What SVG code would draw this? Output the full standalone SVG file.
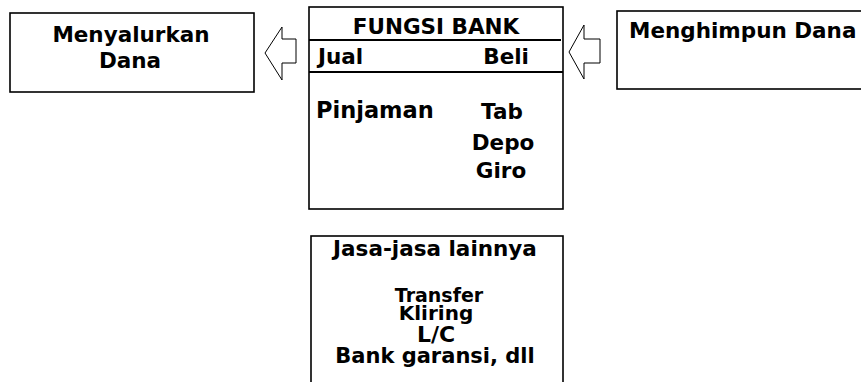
<svg xmlns="http://www.w3.org/2000/svg" width="861" height="382" viewBox="0 0 861 382">
<style>
.box{fill:#fff;stroke:#000;stroke-width:1.6}
.sep{stroke:#000;stroke-width:2.2}
.arr{fill:#fff;stroke:#000;stroke-width:1}
text{font-family:"DejaVu Sans",Verdana,sans-serif;font-weight:bold;font-size:21.5px;fill:#000}
.m{text-anchor:middle}
.e{text-anchor:end}
</style>
<rect width="861" height="382" fill="#fff"/>
<g id="menyalurkan">
<rect class="box" x="10" y="13" width="244" height="79"/>
<text class="m" x="131" y="42">Menyalurkan</text>
<text class="m" x="130" y="68">Dana</text>
</g>
<g id="fungsi-bank">
<rect class="box" x="309" y="7" width="254" height="202"/>
<line class="sep" x1="309" y1="40" x2="561" y2="40"/>
<line class="sep" x1="309" y1="72" x2="563" y2="72"/>
<text class="m" x="436" y="34">FUNGSI BANK</text>
<text x="318" y="64">Jual</text>
<text class="e" x="529" y="64">Beli</text>
<text x="316" y="118" style="font-size:22.5px">Pinjaman</text>
<text class="m" x="502" y="119">Tab</text>
<text class="m" x="503" y="150">Depo</text>
<text class="m" x="501" y="178">Giro</text>
</g>
<g id="menghimpun">
<rect class="box" x="617" y="11" width="250" height="78"/>
<text x="629" y="38">Menghimpun Dana</text>
</g>
<g id="jasa">
<rect class="box" x="311" y="236" width="252" height="160"/>
<text class="m" x="435" y="256">Jasa-jasa lainnya</text>
<text class="m" x="439" y="302" style="font-size:19px">Transfer</text>
<text class="m" x="436" y="320" style="font-size:20px">Kliring</text>
<text class="m" x="436" y="342" style="font-size:22px">L/C</text>
<text class="m" x="435" y="363" style="font-size:21px">Bank garansi, dll</text>
</g>
<g id="connectors">
<polygon class="arr" points="265,53 282,27 282,39 296,39 296,63 282,63 282,80"/>
<polygon class="arr" points="569,52 584,25 584,39 600,39 600,63 584,63 584,79"/>
</g>
</svg>
